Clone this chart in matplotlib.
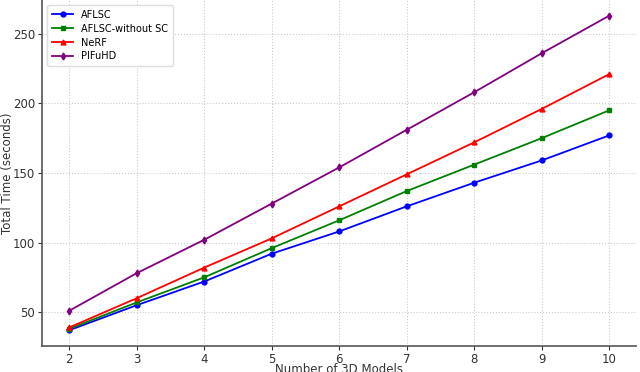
import matplotlib
matplotlib.use('Agg')
import matplotlib.pyplot as plt

# data
models = [2, 3, 4, 5, 6, 7, 8, 9, 10]
aflsc = [37, 55, 72, 92, 108, 126, 143, 159, 177]
aflsc_no_sc = [38, 57, 75, 96, 116, 137, 156, 175, 195]
nerf = [39, 60, 82, 103, 126, 149, 172, 196, 221]
pifuhd = [51, 78, 102, 128, 154, 181, 208, 236, 263]

fig = plt.figure(figsize=(6.4, 3.72), dpi=100)
ax = fig.add_axes([0.066, 0.07, 0.928, 0.93])

ax.plot(models, aflsc, color='blue', marker='o', markersize=3.5, lw=1.3, label='AFLSC')
ax.plot(models, aflsc_no_sc, color='green', marker='s', markersize=3.5, lw=1.3, label='AFLSC-without SC')
ax.plot(models, nerf, color='red', marker='^', markersize=3.5, lw=1.3, label='NeRF')
ax.plot(models, pifuhd, color='purple', marker='d', markersize=3.5, lw=1.3, label='PIFuHD')

ax.set_xlabel('Number of 3D Models', fontsize=8.5, color='#333333')
ax.set_ylabel('Total Time (seconds)', fontsize=8.5, color='#333333')
ax.xaxis.set_label_coords(0.5, -0.05)
ax.yaxis.set_label_coords(-0.047, 0.5)
ax.set_yticks([50, 100, 150, 200, 250])
ax.set_xticks(models)
ax.tick_params(labelsize=8.5, colors='#333333', length=3, pad=2)
ax.grid(True, linestyle=':', color='#cccccc', lw=0.8)

for side in ['top', 'right']:
    ax.spines[side].set_visible(False)
for side in ['left', 'bottom']:
    ax.spines[side].set_color('#555555')
    ax.spines[side].set_linewidth(1.2)

ax.legend(loc='upper left', fontsize=7, frameon=True, framealpha=1,
          edgecolor='#dddddd', handlelength=2.2, borderpad=0.5, labelspacing=0.4)

fig.savefig('out.png', dpi=100, facecolor='white')
